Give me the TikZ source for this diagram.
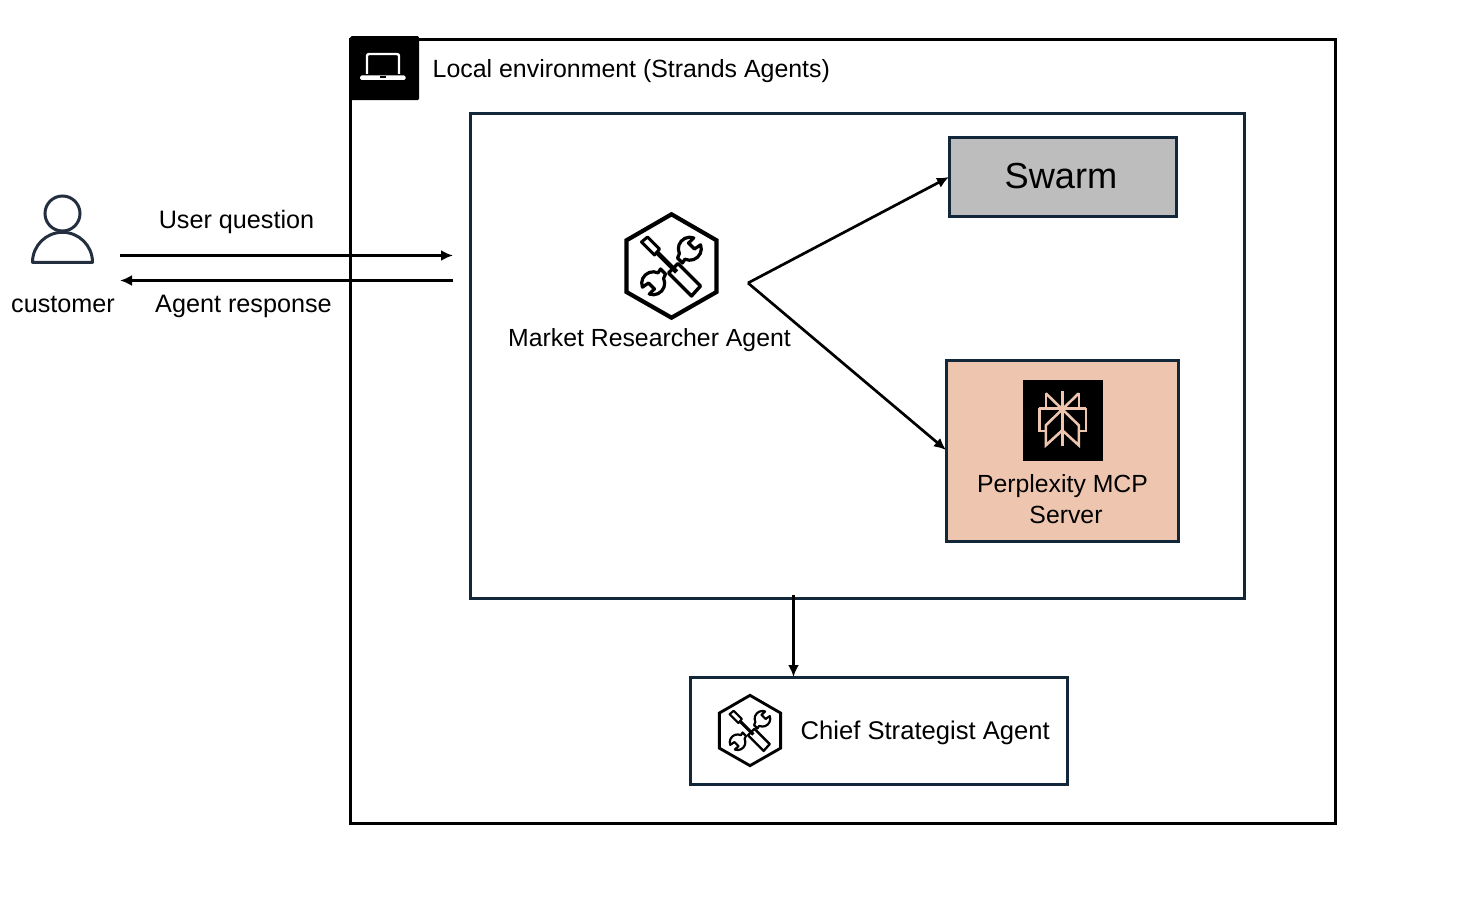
\documentclass[tikz,border=0pt]{standalone}
\usepackage{fontspec}
\setmainfont{Liberation Sans}
\usetikzlibrary{arrows.meta}
\definecolor{navy}{HTML}{12283A}
\definecolor{swarmgrey}{HTML}{BDBDBD}
\definecolor{peach}{HTML}{EEC6B0}
\definecolor{person}{HTML}{232F3E}
\newcommand{\lblfont}[1]{\fontsize{#1}{30}\selectfont}
\tikzset{
  iconw/.store in=\iconw, iconw=1,
  boxstyle/.style={draw=navy,line width=2.9pt,minimum width=#1,inner sep=0pt,anchor=north west,outer sep=0pt},
  lbl/.style={font=\lblfont{25.2},text=black,inner sep=0pt,align=center},
  conn/.style={draw=black,line width=2.7pt,-{Latex[length=12pt,width=11pt]}},
  toolicon/.pic={
    \begin{scope}[line join=round,draw=black]
      % hexagon
      \draw[line width=\iconw*4.2pt,line join=miter] (0,-51.7)--(45,-25.7)--(45,26)--(0,51.7)--(-45,26)--(-45,-25.7)--cycle;
      % screwdriver
      \draw[line width=\iconw*3pt] (-30,-24)--(-24,-29)--(-12,-17)--(-17,-11)--cycle;
      \draw[line width=\iconw*4.6pt] (-15,-14)--(5,6);
      \draw[line width=\iconw*3.4pt] (6.5,-2.5)--(29,20)--(20,30)--(-3,7)--cycle;
      % wrench upper right
      \draw[line width=\iconw*3.2pt] (29.1,-21.2) arc[start angle=-20,end angle=115,radius=11.5]
        -- (11,-3) -- (6,-8) -- (7.9,-12.4)
        arc[start angle=155,end angle=290,radius=11.5] -- (17,-23) -- (23,-17) -- cycle;
      % wrench lower left
      \draw[line width=\iconw*3.2pt] (-29.1,21.2) arc[start angle=160,end angle=295,radius=11.5]
        -- (-11,3) -- (-6,8) -- (-7.9,12.4)
        arc[start angle=335,end angle=470,radius=11.5] -- (-17,23) -- (-23,17) -- cycle;
    \end{scope}
  },
}
\begin{document}
\begin{tikzpicture}[x=1pt,y=-1pt]
\useasboundingbox (0,0) rectangle (1478,912);
% containers
\node[draw=black,line width=2.9pt,minimum width=985pt,minimum height=784pt,anchor=north west,inner sep=0pt,outer sep=0pt] (outer) at (350.5,39.5) {};
\node[boxstyle=774pt,minimum height=485pt] (inner) at (470.5,113.5) {};
\node[boxstyle=227pt,minimum height=79pt,fill=swarmgrey] (swarm) at (949.5,137.5) {};
\node[font=\fontsize{36.2}{40}\selectfont,inner sep=0pt] (swarmtxt) at (1061,176) {Swarm};
\node[boxstyle=232pt,minimum height=181pt,fill=peach] (perp) at (946.5,360.5) {};
\node[boxstyle=377pt,minimum height=107pt] (chief) at (690.5,677.5) {};
% laptop badge
\node[fill=black,rounded corners=1.5pt,minimum width=69pt,minimum height=64pt,anchor=north west,inner sep=0pt] (badge) at (350,36) {};
\draw[white,line width=2.4pt,rounded corners=2pt] (367,74)--(367,54)--(399,54)--(399,74);
\fill[white,rounded corners=1.5pt] (360,75.5) rectangle (405.5,80);
\fill[black] (379.5,76.3) rectangle (386,77.6);
\node[lbl,font=\lblfont{24.9},anchor=west] (localtxt) at (432.5,71) {Local environment (Strands Agents)};
% person
\draw[person,line width=3pt] (62.5,213.5) circle[radius=17.5];
\draw[person,line width=3pt,line join=round] (32.5,262.3) arc[start angle=180,end angle=360,radius=30] -- cycle;
\node[lbl] (custtxt) at (63,304.5) {customer};
% flow labels
\node[lbl] (qtxt) at (236.5,222) {User question};
\node[lbl] (rtxt) at (243.5,306) {Agent response};
\coordinate (custout) at (120,255.5);
\coordinate (innerin) at (453,255.5);
\coordinate (innerout) at (453,280.5);
\coordinate (custin) at (120,280.5);
\draw[conn] (custout)--(innerin);
\draw[conn] (innerout)--(custin);
% market researcher
\pic at (671.5,266) {toolicon};
\node[lbl,font=\lblfont{24.8}] (mtxt) at (649.5,340) {Market Researcher Agent};
\coordinate (fork) at (748,283);
\coordinate (swarmin) at (949,177);
\coordinate (perpin) at (946,450);
\draw[conn] (fork)--(swarmin);
\draw[conn] (fork)--(perpin);
% perplexity logo
\node[fill=black,minimum width=80pt,minimum height=81pt,inner sep=0pt,anchor=north west] (plogo) at (1022.5,380) {};
\begin{scope}[shift={(1062.3,409.3)},draw=peach,line width=2.6pt,line join=miter]
  \draw (0,-18)--(0,37);
  \draw (-16.5,-16)--(-16.5,-1) (16.5,-16)--(16.5,-1);
  \draw (-16.5,-16)--(0,0)--(16.5,-16);
  \draw (-23,-1)--(23.5,-1);
  \draw (-16.5,21.5)--(-23,21.5)--(-23,-1) (16.5,21.5)--(23.5,21.5)--(23.5,-1);
  \draw (0,0)--(-16.5,16)--(-16.5,36)--(0,21)--(16.5,36)--(16.5,16)--cycle;
\end{scope}
\node[lbl,font=\lblfont{24.8}] (ptxt) at (1062.5,486.5) {Perplexity MCP};
\node[lbl,font=\lblfont{24.8}] (stxt) at (1066,515) {Server};
% chief
\coordinate (innerbot) at (793.5,595);
\coordinate (chiefin) at (793.5,677);
\draw[conn] (innerbot)--(chiefin);
\pic[scale=.68,iconw=.68] at (750,730.5) {toolicon};
\node[lbl,font=\lblfont{25.6},anchor=west] (ctxt) at (800.5,733) {Chief Strategist Agent};
\end{tikzpicture}
\end{document}
